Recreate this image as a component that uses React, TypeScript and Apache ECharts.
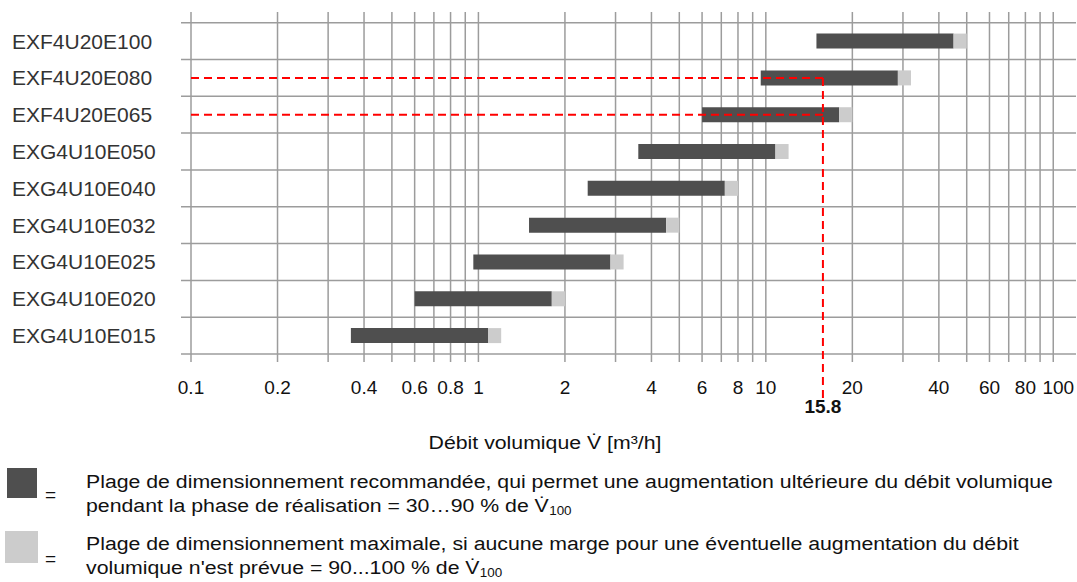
import React, { useEffect, useRef } from "react";
import * as echarts from "echarts";

// Categories, bottom to top
const categories = [
  "EXG4U10E015",
  "EXG4U10E020",
  "EXG4U10E025",
  "EXG4U10E032",
  "EXG4U10E040",
  "EXG4U10E050",
  "EXF4U20E065",
  "EXF4U20E080",
  "EXF4U20E100",
];
// Volume flow ranges [m3/h]
const rangeStart = [0.36, 0.6, 0.96, 1.5, 2.4, 3.6, 6, 9.6, 15];
const recommendedEnd = [1.08, 1.8, 2.88, 4.5, 7.2, 10.8, 18, 28.8, 45];
const maxEnd = [1.2, 2, 3.2, 5, 8, 12, 20, 32, 50];

// X axis
const xTickLabels = [0.1, 0.2, 0.4, 0.6, 0.8, 1, 2, 4, 6, 8, 10, 20, 40, 60, 80, 100];
const xGridTicks = [
  0.1, 0.2, 0.3, 0.4, 0.5, 0.6, 0.7, 0.8, 0.9,
  1, 2, 3, 4, 5, 6, 7, 8, 9,
  10, 20, 30, 40, 50, 60, 70, 80, 90, 100,
];
const rowBoundaries = [-0.5, 0.5, 1.5, 2.5, 3.5, 4.5, 5.5, 6.5, 7.5, 8.5];

// Example reading
const markerValue = 15.8;
const markerFrom = 0.1;
const markerRows = ["EXF4U20E080", "EXF4U20E065"];

const FONT = "'Liberation Sans', Arial, Helvetica, sans-serif";

export default function App() {
  const ref = useRef<HTMLDivElement>(null);

  useEffect(() => {
    if (!ref.current) return;
    const chart = echarts.init(ref.current, undefined, { renderer: "svg" });

    const gridColor = "#9c9c9c";
    const lastLabel = xTickLabels[xTickLabels.length - 1];

    const option: any = {
      animation: false,
      backgroundColor: "#ffffff",
      grid: {
        left: 181,
        top: 12,
        width: 895,
        height: 350,
        containLabel: false,
        outerBoundsMode: "none",
      },
      xAxis: {
        type: "log",
        logBase: 10,
        min: 0.0923,
        max: 120,
        axisLine: { show: false },
        axisTick: { show: false },
        splitLine: { show: false },
        minorSplitLine: { show: false },
        axisLabel: {
          customValues: xTickLabels,
          formatter: (v: number) => (v === lastLabel ? "{last|" + v + "}" : String(v)),
          fontSize: 19,
          fontFamily: FONT,
          color: "#111",
          margin: 16,
          rich: {
            last: { fontSize: 19, fontFamily: FONT, color: "#111", padding: [0, 0, 0, 10] },
          },
        },
      },
      yAxis: {
        type: "value",
        min: -0.717,
        max: 8.79,
        axisLine: { show: false },
        axisTick: { show: false },
        splitLine: { show: false },
        axisLabel: {
          customValues: categories.map((_, i) => i),
          formatter: (v: number) => categories[Math.round(v)] ?? "",
          align: "left",
          margin: 169,
          fontSize: 21,
          fontFamily: FONT,
          color: "#333",
        },
      },
      series: [
        {
          name: "vgrid",
          type: "custom",
          silent: true,
          clip: false,
          encode: { x: 0, y: 1 },
          data: xGridTicks.map((v) => [v, 0]),
          renderItem: (params: any, api: any) => {
            const cs = params.coordSys;
            const x = api.coord([api.value(0), 0])[0];
            return {
              type: "line",
              shape: { x1: x, y1: cs.y, x2: x, y2: cs.y + cs.height },
              style: { stroke: gridColor, lineWidth: 1.5 },
            };
          },
        },
        {
          name: "hgrid",
          type: "custom",
          silent: true,
          clip: false,
          encode: { x: 0, y: 1 },
          data: rowBoundaries.map((b) => [1, b]),
          renderItem: (params: any, api: any) => {
            const cs = params.coordSys;
            const y = api.coord([1, api.value(1)])[1];
            return {
              type: "line",
              shape: { x1: cs.x, y1: y, x2: cs.x + cs.width, y2: y },
              style: { stroke: gridColor, lineWidth: 1.5 },
            };
          },
        },
        {
          name: "ranges",
          type: "custom",
          clip: false,
          encode: { x: [1, 2, 3], y: 0 },
          data: categories.map((_, i) => [i, rangeStart[i], recommendedEnd[i], maxEnd[i]]),
          renderItem: (params: any, api: any) => {
            const row = api.value(0);
            const s = api.coord([api.value(1), row]);
            const m = api.coord([api.value(2), row]);
            const e = api.coord([api.value(3), row]);
            const h = 15;
            return {
              type: "group",
              children: [
                {
                  type: "rect",
                  shape: { x: s[0], y: s[1] - h / 2, width: m[0] - s[0], height: h },
                  style: { fill: "#4f4f4f" },
                },
                {
                  type: "rect",
                  shape: { x: m[0], y: m[1] - h / 2, width: e[0] - m[0], height: h },
                  style: { fill: "#cccccc" },
                },
              ],
            };
          },
        },
        {
          name: "marker",
          type: "custom",
          silent: true,
          clip: false,
          encode: { x: 0, y: 1 },
          data: markerRows.map((r) => [markerValue, categories.indexOf(r)]),
          renderItem: (params: any, api: any) => {
            const cs = params.coordSys;
            const row = api.value(1);
            const p = api.coord([api.value(0), row]);
            const p0 = api.coord([markerFrom, row]);
            const dash = { stroke: "#ff0000", lineWidth: 2, lineDash: [8, 5] };
            const children: any[] = [
              {
                type: "line",
                shape: { x1: p0[0], y1: p[1], x2: p[0], y2: p[1] },
                style: dash,
              },
            ];
            if (params.dataIndex === 0) {
              const bottom = cs.y + cs.height;
              children.push({
                type: "line",
                shape: { x1: p[0], y1: p[1], x2: p[0], y2: bottom + 36 },
                style: dash,
              });
              children.push({
                type: "text",
                style: {
                  text: String(markerValue),
                  x: p[0],
                  y: bottom + 44,
                  align: "center",
                  verticalAlign: "middle",
                  fontSize: 19,
                  fontWeight: "bold",
                  fontFamily: FONT,
                  fill: "#111",
                },
              });
            }
            return { type: "group", children };
          },
        },
      ],
      graphic: [
        {
          type: "text",
          x: 545,
          y: 442,
          scaleX: 1.12,
          style: {
            text: "Débit volumique V\u0307 [m³/h]",
            fontSize: 19,
            fontFamily: FONT,
            fill: "#111",
            align: "center",
            verticalAlign: "middle",
          },
        },
        {
          type: "rect",
          shape: { x: 7, y: 468, width: 30, height: 30 },
          style: { fill: "#4f4f4f" },
        },
        {
          type: "text",
          x: 45,
          y: 494,
          style: { text: "=", fontSize: 19, fontFamily: FONT, fill: "#111", align: "left", verticalAlign: "middle" },
        },
        {
          type: "text",
          x: 86,
          y: 481,
          scaleX: 1.12,
          style: {
            text: "Plage de dimensionnement recommandée, qui permet une augmentation ultérieure du débit volumique",
            fontSize: 19,
            lineHeight: 24,
            fontFamily: FONT,
            fill: "#111",
            align: "left",
            verticalAlign: "middle",
          },
        },
        {
          type: "text",
          x: 86,
          y: 505,
          scaleX: 1.12,
          style: {
            text: "{a|pendant la phase de réalisation = 30…90 % de V\u0307}{s|100}",
            fontFamily: FONT,
            fill: "#111",
            align: "left",
            verticalAlign: "middle",
            rich: {
              a: { fontSize: 19, lineHeight: 24, fontFamily: FONT, fill: "#111" },
              s: { fontSize: 12, lineHeight: 12, verticalAlign: "bottom", fontFamily: FONT, fill: "#111" },
            },
          },
        },
        {
          type: "rect",
          shape: { x: 5, y: 531, width: 33, height: 32 },
          style: { fill: "#cccccc" },
        },
        {
          type: "text",
          x: 45,
          y: 558,
          style: { text: "=", fontSize: 19, fontFamily: FONT, fill: "#111", align: "left", verticalAlign: "middle" },
        },
        {
          type: "text",
          x: 86,
          y: 543,
          scaleX: 1.12,
          style: {
            text: "Plage de dimensionnement maximale, si aucune marge pour une éventuelle augmentation du débit",
            fontSize: 19,
            lineHeight: 24,
            fontFamily: FONT,
            fill: "#111",
            align: "left",
            verticalAlign: "middle",
          },
        },
        {
          type: "text",
          x: 86,
          y: 567,
          scaleX: 1.12,
          style: {
            text: "{a|volumique n'est prévue = 90...100 % de V\u0307}{s|100}",
            fontFamily: FONT,
            fill: "#111",
            align: "left",
            verticalAlign: "middle",
            rich: {
              a: { fontSize: 19, lineHeight: 24, fontFamily: FONT, fill: "#111" },
              s: { fontSize: 12, lineHeight: 12, verticalAlign: "bottom", fontFamily: FONT, fill: "#111" },
            },
          },
        },
      ],
    };

    chart.setOption(option);
    return () => chart.dispose();
  }, []);

  return (
    <div
      ref={ref}
      style={{ position: "absolute", left: 0, top: 0, width: 1077, height: 582, background: "#fff" }}
    />
  );
}
